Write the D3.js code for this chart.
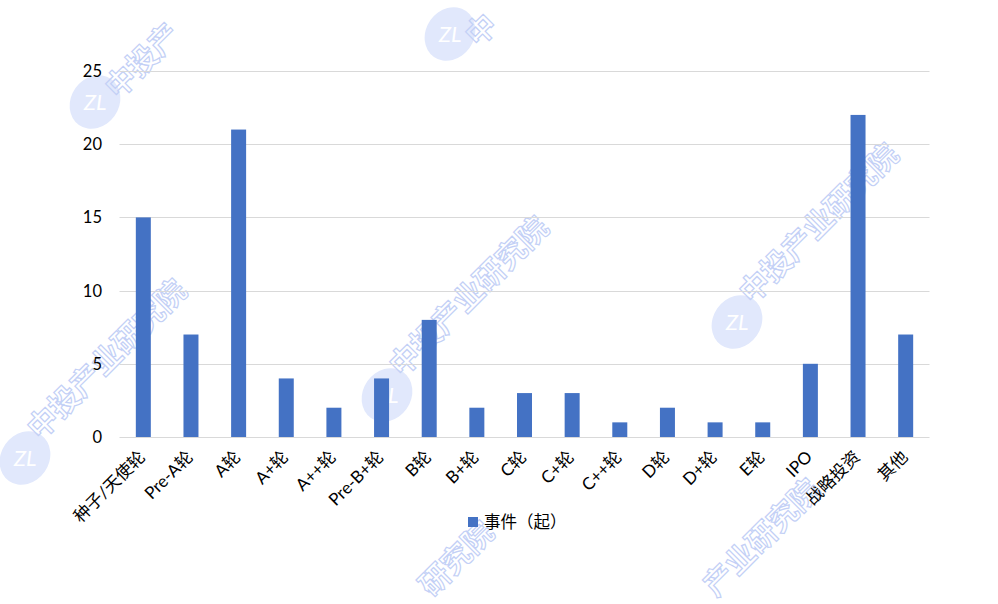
<!DOCTYPE html>
<html><head><meta charset="utf-8">
<script src="https://cdn.jsdelivr.net/npm/d3@7/dist/d3.min.js"></script>
<style>body{margin:0;background:#fff;}svg{display:block;}</style>
</head><body><svg id="c" width="998" height="604"></svg>
<script>
const categories = ["种子/天使轮","Pre-A轮","A轮","A+轮","A++轮","Pre-B+轮","B轮","B+轮","C轮","C+轮","C++轮","D轮","D+轮","E轮","IPO","战略投资","其他"];
const values = [15,7,21,4,2,4,8,2,3,3,1,2,1,1,5,22,7];
const yTicks = [0,5,10,15,20,25];
const seriesName = "事件（起）";
const watermarkText = "中投产业研究院";

const svg = d3.select("#c");
const font = "Lato, 'Noto Sans CJK SC', sans-serif";

// watermarks (background)
const wm = svg.append("g");
const marks = [
  {lx:95,ly:102,tx:118,ty:100,txt:watermarkText.slice(0,3)},
  {lx:450,ly:34,tx:478,ty:48,txt:watermarkText.slice(0,1)},
  {lx:387,ly:395,tx:402,ty:378,txt:watermarkText},
  {lx:737,ly:322,tx:752,ty:305,txt:watermarkText},
  {lx:25,ly:458,tx:40,ty:441,txt:watermarkText},
  {lx:null,tx:432,ty:598,txt:watermarkText.slice(4)},
  {lx:null,tx:716,ty:598,txt:watermarkText.slice(2)}
];
marks.forEach(m=>{
  if(m.lx!==null){
    wm.append("ellipse").attr("cx",m.lx).attr("cy",m.ly).attr("rx",24).attr("ry",28)
      .attr("transform",`rotate(35,${m.lx},${m.ly})`)
      .attr("fill","#e1e8fc");
    wm.append("text").attr("x",m.lx).attr("y",m.ly+8).attr("text-anchor","middle")
      .attr("font-size",22).attr("font-style","italic").attr("fill","#fff").attr("font-family",font).text("ZL");
  }
  wm.append("text").attr("transform",`translate(${m.tx},${m.ty}) rotate(-45)`)
    .attr("font-size",30).attr("font-weight","bold").attr("font-family","'Noto Sans CJK SC'")
    .attr("fill","none").attr("stroke","#c3d0f6").attr("stroke-width",1.2)
    .text(m.txt);
});

const x = d3.scaleBand().domain(categories).range([119.5,929.5]).paddingInner(0).paddingOuter(0);
const y = d3.scaleLinear().domain([0,25]).range([437,71]);
const barW = 15;

// gridlines
svg.append("g").selectAll("line").data(yTicks).join("line")
  .attr("x1",119.5).attr("x2",929.5).attr("y1",d=>Math.round(y(d))+0.5).attr("y2",d=>Math.round(y(d))+0.5)
  .attr("stroke","#d9d9d9").attr("stroke-width",1);

// y labels
svg.append("g").selectAll("text").data(yTicks).join("text")
  .attr("x",102).attr("y",d=>y(d)+6).attr("text-anchor","end")
  .attr("font-size",16.5).attr("font-family",font).attr("fill","#000").text(d=>d);

// bars
svg.append("g").selectAll("rect").data(values).join("rect")
  .attr("x",(d,i)=>x(categories[i])+x.bandwidth()/2-barW/2)
  .attr("width",barW)
  .attr("y",d=>y(d)).attr("height",d=>y(0)-y(d))
  .attr("fill","#4472c4");

// x labels
svg.append("g").selectAll("text").data(categories).join("text")
  .attr("transform",d=>`translate(${x(d)+x.bandwidth()/2+3},${458}) rotate(-45)`)
  .attr("text-anchor","end").attr("font-size",17).attr("font-family",font).attr("fill","#000")
  .text(d=>d);

// legend
svg.append("rect").attr("x",468).attr("y",517).attr("width",10).attr("height",10).attr("fill","#4472c4");
svg.append("text").attr("x",484).attr("y",528).attr("font-size",16.5).attr("font-family",font).attr("fill","#000").text(seriesName);
</script></body></html>
